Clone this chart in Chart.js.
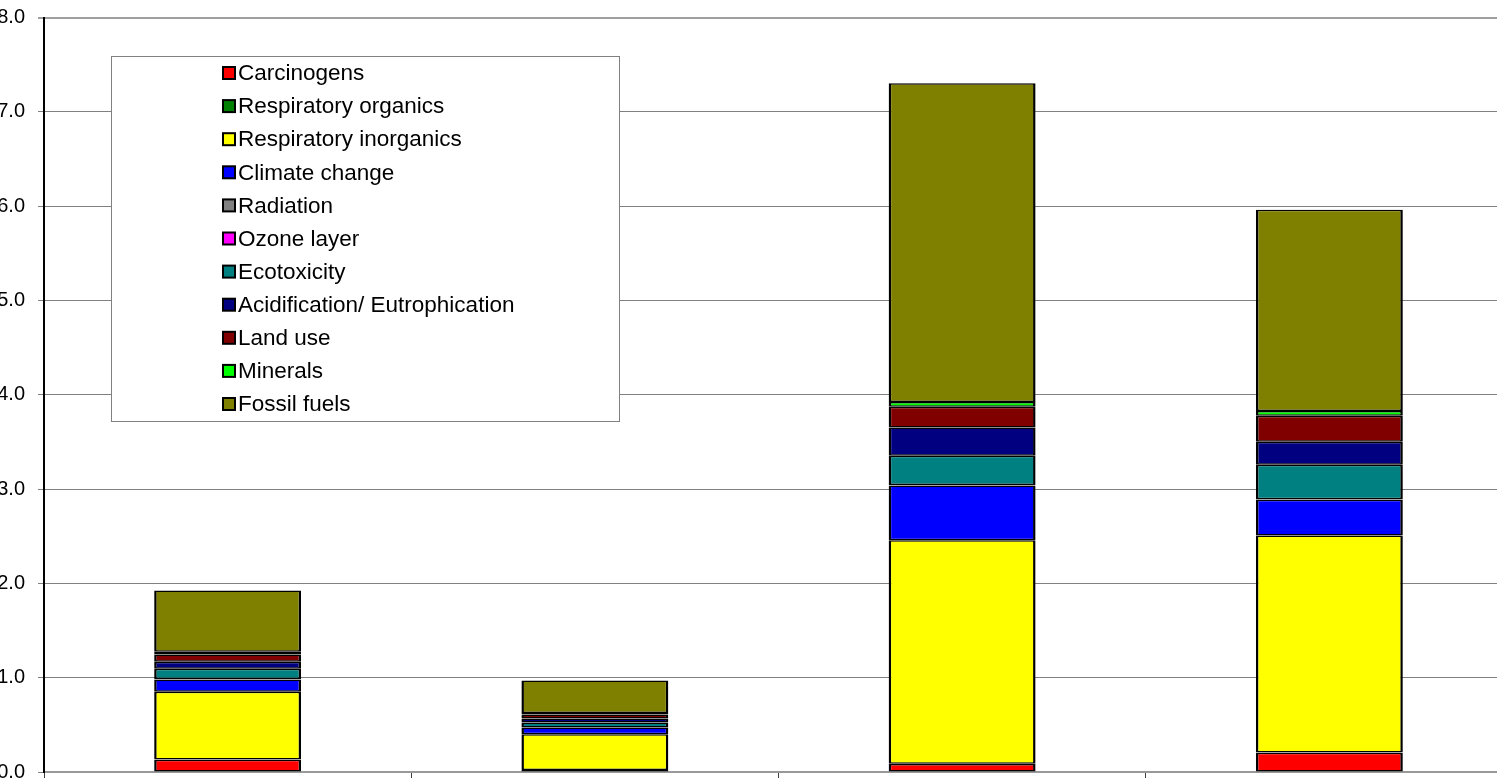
<!DOCTYPE html>
<html>
<head>
<meta charset="utf-8">
<script src="https://cdn.jsdelivr.net/npm/chart.js@4"></script>
<style>
  html, body { margin: 0; padding: 0; overflow: hidden; background: #fff; }
  canvas { display: block; }
</style>
</head>
<body>
<canvas id="myChart" width="1513" height="778"></canvas>
<script>
const labels = ['1', '2', '3', '4'];

const carcinogens    = [0.13,  0.02,  0.085, 0.205];
const respOrganics   = [0.002, 0.001, 0.003, 0.003];
const respInorganics = [0.72,  0.38,  2.37,  2.30];
const climateChange  = [0.13,  0.07,  0.58,  0.38];
const radiation      = [0.002, 0.001, 0.003, 0.003];
const ozoneLayer     = [0.001, 0.001, 0.001, 0.001];
const ecotoxicity    = [0.11,  0.053, 0.31,  0.365];
const acidification  = [0.075, 0.042, 0.30,  0.245];
const landUse        = [0.075, 0.043, 0.22,  0.275];
const minerals       = [0.03,  0.014, 0.05,  0.05];
const fossilFuels    = [0.65,  0.346, 3.38,  2.135];

const yTicks = [0, 1, 2, 3, 4, 5, 6, 7, 8];

const series = [
  ['Carcinogens', carcinogens, '#FF0000'],
  ['Respiratory organics', respOrganics, '#008000'],
  ['Respiratory inorganics', respInorganics, '#FFFF00'],
  ['Climate change', climateChange, '#0000FF'],
  ['Radiation', radiation, '#808080'],
  ['Ozone layer', ozoneLayer, '#FF00FF'],
  ['Ecotoxicity', ecotoxicity, '#008080'],
  ['Acidification/ Eutrophication', acidification, '#000080'],
  ['Land use', landUse, '#800000'],
  ['Minerals', minerals, '#00FF00'],
  ['Fossil fuels', fossilFuels, '#808000'],
];

const FONT = '"Liberation Sans", Arial, sans-serif';

// legend box drawn inside the plot, like the original
const boxLegend = {
  id: 'boxLegend',
  afterDraw(chart) {
    const ctx = chart.ctx;
    ctx.save();
    ctx.fillStyle = '#fff';
    ctx.strokeStyle = '#808080';
    ctx.lineWidth = 1;
    ctx.fillRect(111.5, 56.5, 508, 365);
    ctx.strokeRect(111.5, 56.5, 508, 365);
    ctx.font = '22.5px ' + FONT;
    ctx.textBaseline = 'middle';
    chart.data.datasets.forEach((ds, i) => {
      const y = 73 + i * 33.1;
      ctx.fillStyle = ds.backgroundColor;
      ctx.fillRect(223, y - 6, 12, 12);
      ctx.strokeStyle = '#000';
      ctx.lineWidth = 2;
      ctx.strokeRect(223, y - 6, 12, 12);
      ctx.fillStyle = '#000';
      ctx.fillText(ds.label, 238, y + 1);
    });
    ctx.restore();
  }
};

const data = {
  labels: labels,
  datasets: series.map(s => ({
    label: s[0],
    data: s[1],
    backgroundColor: s[2],
    borderColor: '#000',
    borderWidth: { top: 1.5, bottom: 1.5, left: 2.5, right: 2.5 },
    borderSkipped: false,
    barPercentage: 0.4,
    categoryPercentage: 1.0,
  })),
};

const config = {
  type: 'bar',
  data: data,
  options: {
    responsive: false,
    animation: false,
    layout: { padding: { top: 17.5, left: 0, right: 0, bottom: 0 } },
    plugins: {
      legend: { display: false },
      tooltip: { enabled: false },
    },
    scales: {
      x: {
        stacked: true,
        grid: {
          offset: true,
          drawOnChartArea: false,
          drawTicks: true,
          tickLength: 6,
          color: '#404040',
        },
        border: { color: '#999', width: 2 },
        ticks: { display: false },
        afterFit(scale) {
          scale.height = 6;
          scale.paddingLeft = 0;
          scale.paddingRight = 0;
        },
      },
      y: {
        stacked: true,
        min: 0,
        max: 8,
        afterBuildTicks(scale) { scale.ticks = yTicks.map(v => ({ value: v })); },
        ticks: {
          stepSize: 1,
          padding: 13,
          color: '#000',
          font: { family: FONT, size: 20 },
          callback: v => v.toFixed(1),
        },
        grid: {
          color: ctx => ctx.tick && ctx.tick.value === 8 ? '#a0a0a0' : '#808080',
          lineWidth: ctx => ctx.tick && ctx.tick.value === 8 ? 2 : 1,
          tickLength: 6,
        },
        border: { color: '#000', width: 2 },
        afterFit(scale) {
          scale.width = 44;
          scale.paddingTop = 0;
          scale.paddingBottom = 0;
        },
      },
    },
  },
  plugins: [boxLegend],
};

const myChart = new Chart(document.getElementById('myChart'), config);
</script>
</body>
</html>
